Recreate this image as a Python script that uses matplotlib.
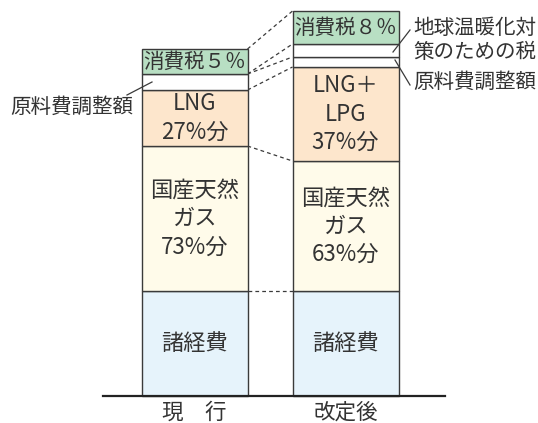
import matplotlib.pyplot as plt

plt.rcParams['font.family'] = ['Noto Sans CJK JP', 'DejaVu Sans']

# layers from bottom to top (heights in chart units)
layers = ['諸経費', '国産天然ガス', 'LNG', '原料費調整額', '地球温暖化対策のための税', '消費税']
current = [105, 145, 56, 16, 0, 25]
revised = [105, 130, 94, 10, 13, 33]
categories = ['現　行', '改定後']

current_labels = ['諸経費', '国産天然\nガス\n73%分', 'LNG\n27%分', '', '', '消費税５％']
revised_labels = ['諸経費', '国産天然\nガス\n63%分', 'LNG＋\nLPG\n37%分', '', '', '消費税８％']

colors = ['#e6f3fb', '#fffbea', '#fde6cc', 'white', 'white', '#b8dfc3']
edge = '#3a3a3a'
txt = '#333333'

fig = plt.figure(figsize=(5.38, 4.23), dpi=100)
ax = fig.add_axes([0, 0, 1, 1])
ax.set_xlim(0, 538)
ax.set_ylim(-27, 396)
ax.axis('off')

xpos = [194.5, 345.5]
width = 106

tops = []
for x, vals, labs in [(xpos[0], current, current_labels), (xpos[1], revised, revised_labels)]:
    bottom = 0
    cum = []
    for i, (v, c, lab) in enumerate(zip(vals, colors, labs)):
        if v > 0:
            ax.bar(x, v, width, bottom=bottom, color=c, edgecolor=edge, linewidth=1.0, zorder=2)
        if lab:
            fs = 14.8 if i == len(vals) - 1 else 16
            ax.text(x, bottom + v / 2, lab, ha='center', va='center', fontsize=fs,
                    color=txt, linespacing=1.3, zorder=3)
        bottom += v
        cum.append(bottom)
    tops.append(cum)

# dashed connectors between matching layer boundaries
for a, b in zip(tops[0], tops[1]):
    ax.plot([xpos[0] + width / 2, xpos[1] - width / 2], [a, b], color=edge,
            linewidth=0.9, dashes=(3, 2.5), zorder=1)

# baseline
ax.plot([103, 445], [0, 0], color='#222222', linewidth=1.6, zorder=4)

for x, cat in zip(xpos, categories):
    ax.text(x, -17, cat, ha='center', va='center', fontsize=15.5, color=txt)

# side labels with leader lines
ax.text(10, 289, '原料費調整額', ha='left', va='center', fontsize=14.8, color=txt)
ax.plot([127, 152], [301, 314], color=edge, linewidth=0.9)

ax.text(413, 356, '地球温暖化対\n策のための税', ha='left', va='center', fontsize=14.8,
        color=txt, linespacing=1.15)
ax.plot([393, 410], [344, 366], color=edge, linewidth=0.9)

ax.text(413, 314, '原料費調整額', ha='left', va='center', fontsize=14.8, color=txt)
ax.plot([395, 410], [336, 311], color=edge, linewidth=0.9)

fig.savefig('out.png', dpi=100)
